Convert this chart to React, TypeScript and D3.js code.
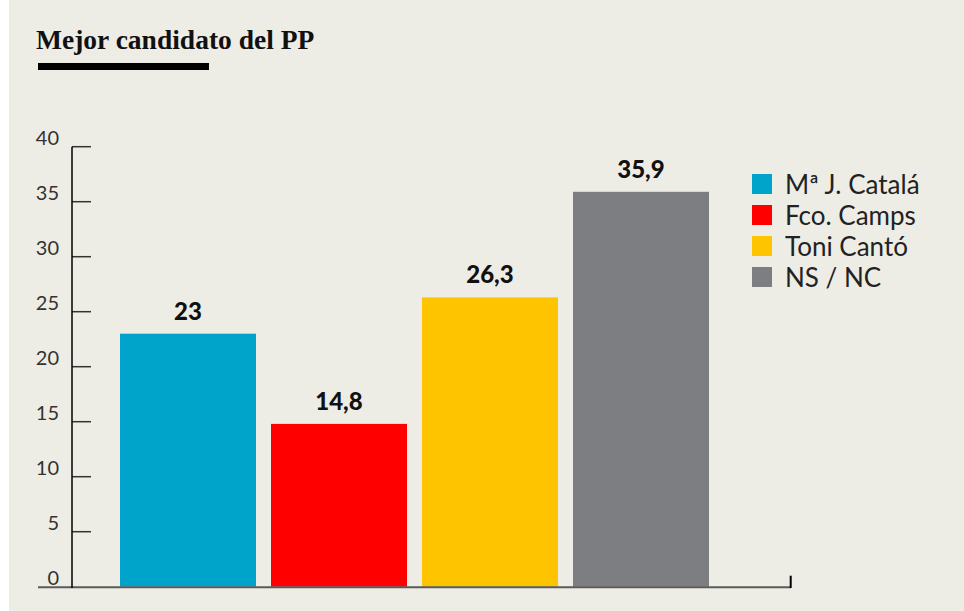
import React from "react";
import * as d3 from "d3";

const categories = ["Mª J. Catalá", "Fco. Camps", "Toni Cantó", "NS / NC"];
const values = [23, 14.8, 26.3, 35.9];
const colors = ["#00A3C9", "#FF0000", "#FFC400", "#7D7E82"];
const yTicks = [0, 5, 10, 15, 20, 25, 30, 35, 40];
const title = "Mejor candidato del PP";

const W = 964;
const H = 611;

export default function App() {
  const y = d3.scaleLinear().domain([0, 40]).range([586.7, 146.7]);
  const x = d3
    .scaleBand<string>()
    .domain(categories)
    .range([120, 709])
    .paddingInner(15 / 151)
    .paddingOuter(0);
  const fmt = (v: number) => String(v).replace(".", ",");
  const sans = "Lato, 'Open Sans', sans-serif";

  return (
    <svg
      width={W}
      height={H}
      style={{ position: "absolute", left: 0, top: 0, display: "block" }}
    >
      <rect x={0} y={0} width={W} height={H} fill="#ffffff" />
      <rect x={9} y={0} width={W - 9} height={H} fill="#EEEDE5" />

      <text
        x={36}
        y={49}
        fontFamily="'Liberation Serif', 'DejaVu Serif', serif"
        fontWeight={700}
        fontSize={27.5}
        fill="#111"
      >
        {title}
      </text>
      <rect x={38} y={63} width={171} height={7} fill="#000" />

      {/* y ticks */}
      {yTicks.map((t) => (
        <g key={t}>
          {t > 0 && (
            <line
              x1={72}
              x2={91}
              y1={y(t)}
              y2={y(t)}
              stroke="#333"
              strokeWidth={1.5}
            />
          )}
          <text
            x={59}
            y={y(t) - 2}
            textAnchor="end"
            fontFamily={sans}
            fontWeight={400}
            fontSize={20}
            fill="#333"
          >
            {t}
          </text>
        </g>
      ))}

      {/* bars */}
      {categories.map((c, i) => (
        <g key={c}>
          <rect
            x={x(c)}
            y={y(values[i])}
            width={x.bandwidth()}
            height={y(0) - y(values[i])}
            fill={colors[i]}
          />
          <text
            x={(x(c) as number) + x.bandwidth() / 2}
            y={y(values[i]) - 14}
            textAnchor="middle"
            fontFamily={sans}
            fontWeight={900}
            fontSize={24}
            fill="#111"
          >
            {fmt(values[i])}
          </text>
        </g>
      ))}

      {/* baseline & axis */}
      <line x1={38} x2={791} y1={587.3} y2={587.3} stroke="#5a5a5a" strokeWidth={2} />
      <line x1={72} x2={72} y1={y(40)} y2={588} stroke="#000" strokeWidth={1.5} />
      <line x1={790.7} x2={790.7} y1={575.7} y2={588} stroke="#000" strokeWidth={2} />

      {/* legend */}
      {categories.map((c, i) => (
        <g key={"lg" + c}>
          <rect x={752} y={174 + i * 31} width={20} height={20} fill={colors[i]} />
          <text
            x={785}
            y={194 + i * 31}
            fontFamily={sans}
            fontSize={26}
            fill="#222"
          >
            {c}
          </text>
        </g>
      ))}
    </svg>
  );
}
